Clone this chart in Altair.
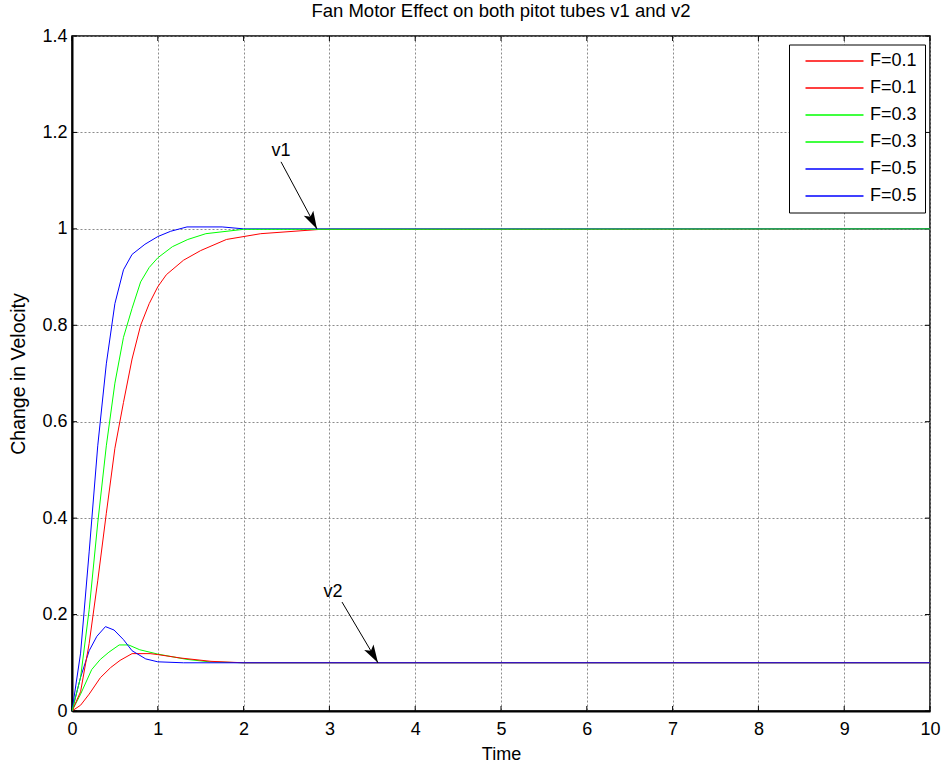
import altair as alt
import pandas as pd

FONT = "Liberation Sans"

# ---- data ----
# v1 curves
t_v1_f01 = [0, 0.1, 0.2, 0.3, 0.4, 0.5, 0.6, 0.7, 0.8, 0.9, 1.0, 1.1, 1.3, 1.5, 1.8, 2.2, 2.9, 10]
y_v1_f01 = [0, 0.04, 0.14, 0.27, 0.41, 0.545, 0.64, 0.73, 0.80, 0.845, 0.88, 0.905, 0.935, 0.955, 0.978, 0.99, 0.999, 1.0]
t_v1_f03 = [0, 0.1, 0.2, 0.3, 0.4, 0.5, 0.6, 0.7, 0.8, 0.9, 1.0, 1.17, 1.35, 1.56, 2.0, 10]
y_v1_f03 = [0, 0.07, 0.21, 0.39, 0.55, 0.68, 0.775, 0.835, 0.89, 0.92, 0.94, 0.963, 0.978, 0.99, 0.999, 1.0]
t_v1_f05 = [0, 0.1, 0.2, 0.3, 0.4, 0.5, 0.6, 0.7, 0.85, 1.0, 1.15, 1.34, 1.75, 2.0, 10]
y_v1_f05 = [0, 0.12, 0.33, 0.55, 0.72, 0.845, 0.915, 0.947, 0.968, 0.984, 0.995, 1.004, 1.004, 1.0, 1.0]
# v2 curves
t_v2_f01 = [0, 0.1, 0.2, 0.33, 0.45, 0.56, 0.7, 0.91, 1.0, 1.26, 1.62, 2.0, 10]
y_v2_f01 = [0, 0.012, 0.035, 0.069, 0.09, 0.105, 0.119, 0.119, 0.117, 0.11, 0.103, 0.1, 0.1]
t_v2_f03 = [0, 0.1, 0.23, 0.33, 0.43, 0.55, 0.66, 0.79, 1.0, 1.34, 1.6, 2.0, 10]
y_v2_f03 = [0, 0.035, 0.086, 0.107, 0.122, 0.137, 0.137, 0.127, 0.118, 0.107, 0.102, 0.1, 0.1]
t_v2_f05 = [0, 0.1, 0.2, 0.29, 0.39, 0.49, 0.6, 0.7, 0.86, 1.0, 1.3, 10]
y_v2_f05 = [0, 0.07, 0.125, 0.155, 0.175, 0.168, 0.148, 0.125, 0.108, 0.102, 0.1, 0.1]

# legend order (two entries per fan setting)
series_names = ["F=0.1 a", "F=0.1 b", "F=0.3 a", "F=0.3 b", "F=0.5 a", "F=0.5 b"]
series_colors = ["#ff0000", "#ff0000", "#00ff00", "#00ff00", "#0000ff", "#0000ff"]

# drawing order (last drawn is on top)
draw_order = [
    ("F=0.3 b", t_v2_f03, y_v2_f03),
    ("F=0.1 b", t_v2_f01, y_v2_f01),
    ("F=0.5 b", t_v2_f05, y_v2_f05),
    ("F=0.1 a", t_v1_f01, y_v1_f01),
    ("F=0.5 a", t_v1_f05, y_v1_f05),
    ("F=0.3 a", t_v1_f03, y_v1_f03),
]

# annotations
ann_labels = ["v1", "v2"]
ann_text_t = [2.436, 3.042]
ann_text_v = [1.162, 0.247]
arrow_start_t = [2.436, 3.147]
arrow_start_v = [1.139, 0.226]
arrow_tip_t = [2.855, 3.566]
arrow_tip_v = [1.0, 0.1]
head_t = [2.806, 3.513]
head_v = [1.016, 0.116]
head_angle = [152, 149.5]

x_ticks = list(range(0, 11))
y_ticks = [0, 0.2, 0.4, 0.6, 0.8, 1.0, 1.2, 1.4]
x_min, x_max = 0, 10
y_min, y_max = 0, 1.4
tick_len_x = 0.058   # inward tick length in x units
tick_len_y = 0.0104  # inward tick length in y units

# ---- tables ----
rows = []
k = 0
for name, ts, ys in draw_order:
    for t, y in zip(ts, ys):
        rows.append({"series": name, "t": t, "v": y, "k": k})
        k += 1
df = pd.DataFrame(rows)

df_text = pd.DataFrame({"t": ann_text_t, "v": ann_text_v, "label": ann_labels})
df_arrow = pd.DataFrame({"t": arrow_start_t, "v": arrow_start_v, "t2": arrow_tip_t, "v2": arrow_tip_v})
df_head = pd.DataFrame({"t": head_t, "v": head_v, "ang": head_angle})

tick_rows = []
for xt in x_ticks:
    tick_rows.append({"t": xt, "t2": xt, "v": y_min, "v2": y_min + tick_len_y})
    tick_rows.append({"t": xt, "t2": xt, "v": y_max, "v2": y_max - tick_len_y})
for yt in y_ticks:
    tick_rows.append({"t": x_min, "t2": x_min + tick_len_x, "v": yt, "v2": yt})
    tick_rows.append({"t": x_max, "t2": x_max - tick_len_x, "v": yt, "v2": yt})
df_ticks = pd.DataFrame(tick_rows)

xscale = alt.Scale(domain=[x_min, x_max], nice=False)
yscale = alt.Scale(domain=[y_min, y_max], nice=False)

x_axis = alt.Axis(title="Time", values=x_ticks, format="d", labelPadding=9, titlePadding=7,
                  labelFontSize=18, titleFontSize=18, labelFlush=False)
y_axis = alt.Axis(title="Change in Velocity", values=y_ticks, format=".1~f", labelPadding=5, titlePadding=13,
                  labelFontSize=18, titleFontSize=19.5, labelFlush=False)

lines = alt.Chart(df).mark_line(strokeWidth=1, clip=True).encode(
    x=alt.X("t:Q", scale=xscale, axis=x_axis),
    y=alt.Y("v:Q", scale=yscale, axis=y_axis),
    color=alt.Color(
        "series:N",
        scale=alt.Scale(domain=series_names, range=series_colors),
        sort=series_names,
        legend=alt.Legend(
            title=None,
            orient="none",
            legendX=717,
            legendY=8.5,
            symbolType="M-6,0L6,0",
            symbolSize=93.4,
            symbolStrokeWidth=1.5,
            symbolOffset=29,
            symbolOpacity=1,
            labelOffset=26.5,
            labelExpr="split(datum.label, ' ')[0]",
            labelFont=FONT,
            labelFontSize=18,
            labelColor="black",
            strokeColor="black",
            fillColor="white",
            padding=7.5,
            rowPadding=9,
            cornerRadius=0,
        ),
    ),
    detail="series:N",
    order="k:Q",
)

ticks = alt.Chart(df_ticks).mark_rule(color="black", strokeWidth=1).encode(
    x=alt.X("t:Q", scale=xscale), y=alt.Y("v:Q", scale=yscale),
    x2="t2:Q", y2="v2:Q",
)

arrows = alt.Chart(df_arrow).mark_rule(color="black", strokeWidth=1).encode(
    x=alt.X("t:Q", scale=xscale), y=alt.Y("v:Q", scale=yscale),
    x2="t2:Q", y2="v2:Q",
)

heads = alt.Chart(df_head).mark_point(
    shape="M0,-1L0.6,1L0,0.55L-0.6,1Z", filled=True, color="black", size=324, opacity=1
).encode(
    x=alt.X("t:Q", scale=xscale), y=alt.Y("v:Q", scale=yscale),
    angle=alt.Angle("ang:Q", scale=None),
)

texts = alt.Chart(df_text).mark_text(font=FONT, fontSize=18, color="black", align="center", baseline="middle").encode(
    x=alt.X("t:Q", scale=xscale), y=alt.Y("v:Q", scale=yscale), text="label:N",
)

chart = alt.layer(ticks, lines, arrows, heads, texts).properties(
    width=858,
    height=675,
    title=alt.TitleParams(
        "Fan Motor Effect on both pitot tubes v1 and v2",
        font=FONT, fontSize=18.5, fontWeight="normal", color="black",
        offset=-8, baseline="alphabetic", anchor="middle", frame="group",
    ),
    padding={"left": 72, "top": 36, "right": 12, "bottom": 53},
    autosize=alt.AutoSizeParams(type="none"),
).configure_view(
    stroke="black", strokeWidth=1.5
).configure_axis(
    labelFont=FONT, labelColor="black",
    titleFont=FONT, titleFontWeight="normal", titleColor="black",
    grid=True, gridColor="#808080", gridDash=[2, 2], gridWidth=1, gridOpacity=0.9,
    domainColor="black", domainWidth=2, ticks=False,
)

chart.save("out.html", embed_options={"renderer": "svg", "actions": False})
